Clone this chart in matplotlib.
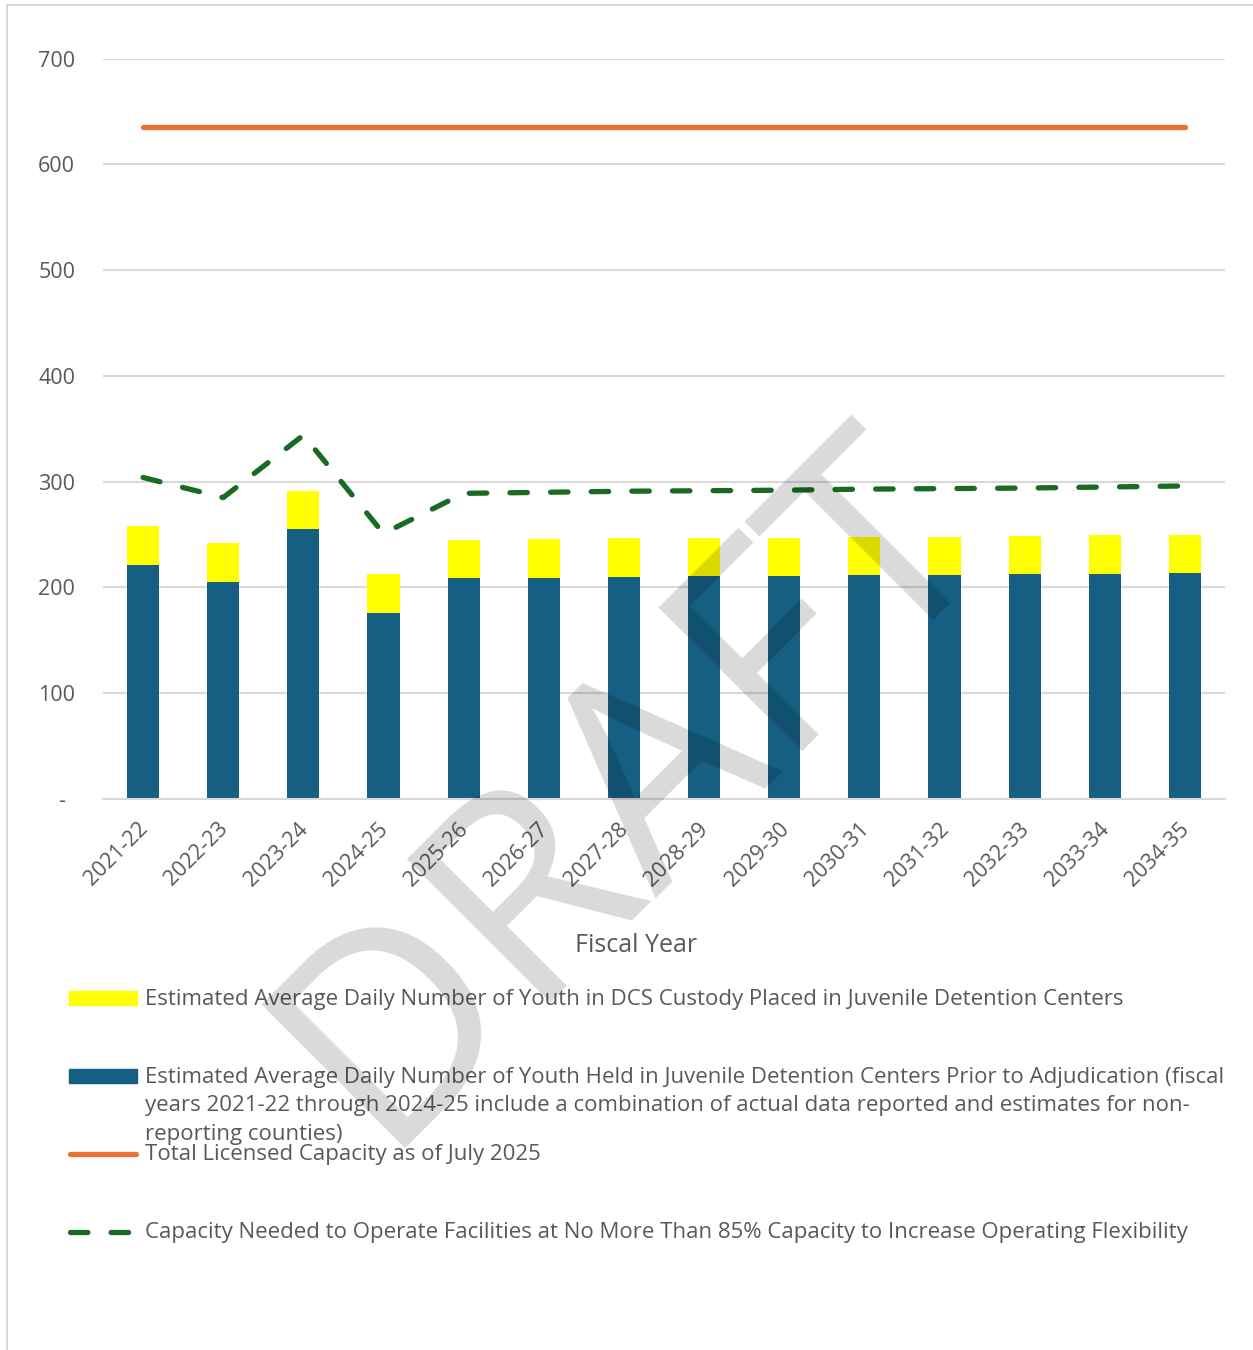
import matplotlib
matplotlib.use("Agg")
import matplotlib.pyplot as plt
from matplotlib.lines import Line2D
from matplotlib.patches import Rectangle
from matplotlib.transforms import ScaledTranslation
import numpy as np

plt.rcParams['font.family'] = ['Open Sans', 'DejaVu Sans']

# data
years = ['2021-22', '2022-23', '2023-24', '2024-25', '2025-26', '2026-27', '2027-28',
         '2028-29', '2029-30', '2030-31', '2031-32', '2032-33', '2033-34', '2034-35']
held_pre_adjudication = [221, 205, 255, 176, 209, 209, 210, 211, 211, 212, 212, 213, 213, 214]
dcs_custody = [37, 37, 36, 37, 36, 37, 37, 36, 36, 36, 36, 36, 37, 36]
licensed_capacity = [635, 635, 635, 635, 635, 635, 635, 635, 635, 635, 635, 635, 635, 635]
capacity_85pct = [304, 285, 344, 251, 289, 290, 291, 291.5, 292, 293, 293.5, 294, 295, 296]
yticks = [0, 100, 200, 300, 400, 500, 600, 700]

labels = [
    'Estimated Average Daily Number of Youth in DCS Custody Placed in Juvenile Detention Centers',
    ['Estimated Average Daily Number of Youth Held in Juvenile Detention Centers Prior to Adjudication (fiscal',
     'years 2021-22 through 2024-25 include a combination of actual data reported and estimates for non-',
     'reporting counties)'],
    'Total Licensed Capacity as of July 2025',
    'Capacity Needed to Operate Facilities at No More Than 85% Capacity to Increase Operating Flexibility',
]

BLUE = '#155F82'
YELLOW = '#FFFF00'
ORANGE = '#E97132'
GREEN = '#196B24'
GRID = '#D9D9D9'
TXT = '#595959'
FS = 16

W, H = 1253, 1350
fig = plt.figure(figsize=(W / 100, H / 100), dpi=100)
ax = fig.add_axes([103 / W, 1 - 799 / H, (1225 - 103) / W, (799 - 58.7) / H])

x = np.arange(len(years))
ax.bar(x, held_pre_adjudication, width=0.4, color=BLUE, zorder=2)
ax.bar(x, dcs_custody, width=0.4, bottom=held_pre_adjudication, color=YELLOW, zorder=2)
ax.plot(x, licensed_capacity, color=ORANGE, lw=3.8, solid_capstyle='round', zorder=3)
ax.plot(x, capacity_85pct, color=GREEN, lw=3.8, dashes=(3.3, 4.4),
        dash_capstyle='round', zorder=3)

ax.set_xlim(-0.5, len(years) - 0.5)
ax.set_ylim(0, 700)
ax.set_yticks(yticks)
ax.set_yticklabels(['-'] + [str(v) for v in yticks[1:]])
ax.yaxis.grid(True, color=GRID, lw=1.5, zorder=0)
ax.set_axisbelow(True)
for s in ['top', 'right', 'left']:
    ax.spines[s].set_visible(False)
ax.spines['bottom'].set_color(GRID)
ax.spines['bottom'].set_linewidth(1.5)
ax.tick_params(axis='y', length=0, pad=20, labelsize=15.5, labelcolor=TXT)
ax.tick_params(axis='x', length=0, pad=14, labelsize=15.5, labelcolor=TXT)
# dash for zero sits a bit left like the Excel accounting format
zero_lbl = ax.get_yticklabels()[0]
zero_lbl.set_transform(zero_lbl.get_transform() + ScaledTranslation(-10 / 100, 0, fig.dpi_scale_trans))

ax.set_xticks(x)
ax.set_xticklabels(years, rotation=45, ha='right', va='top', rotation_mode='anchor')
for lbl in ax.get_xticklabels():
    lbl.set_transform(lbl.get_transform() + ScaledTranslation(-6 / 100, 0, fig.dpi_scale_trans))

fig.text(636 / W, 1 - 946 / H, 'Fiscal Year', ha='center', va='center', fontsize=18, color=TXT)

# legend drawn by hand to keep the original spacing
def fy(py):
    return 1 - py / H

fig.patches.append(Rectangle((69 / W, fy(1005)), 68 / W, 14 / H, color=YELLOW, transform=fig.transFigure))
fig.patches.append(Rectangle((69 / W, fy(1083)), 68 / W, 14 / H, color=BLUE, transform=fig.transFigure))
fig.add_artist(Line2D([70 / W, 136 / W], [fy(1154), fy(1154)], color=ORANGE, lw=3.8,
                      solid_capstyle='round', transform=fig.transFigure))
fig.add_artist(Line2D([70 / W, 130 / W], [fy(1232), fy(1232)], color=GREEN, lw=3.8,
                      dashes=(3.3, 4.4), dash_capstyle='round', transform=fig.transFigure))

fig.text(145 / W, fy(1005.5), labels[0], va='baseline', fontsize=FS, color=TXT)
for i, line in enumerate(labels[1]):
    fig.text(145 / W, fy(1083 + 28.5 * i), line, va='baseline', fontsize=FS, color=TXT)
fig.text(145 / W, fy(1160), labels[2], va='baseline', fontsize=FS, color=TXT)
fig.text(145 / W, fy(1238), labels[3], va='baseline', fontsize=FS, color=TXT)

# frame edges visible in the capture
fig.add_artist(Line2D([7 / W, 1], [fy(5), fy(5)], color=GRID, lw=1.5, transform=fig.transFigure))
fig.add_artist(Line2D([7 / W, 7 / W], [0, fy(5)], color=GRID, lw=1.5, transform=fig.transFigure))

# watermark
fig.text(632 / W, fy(790), 'DRAFT', rotation=45, rotation_mode='anchor', ha='center', va='center',
         fontsize=205, color='black', alpha=0.15, zorder=10)

fig.savefig('out.png', dpi=100)
